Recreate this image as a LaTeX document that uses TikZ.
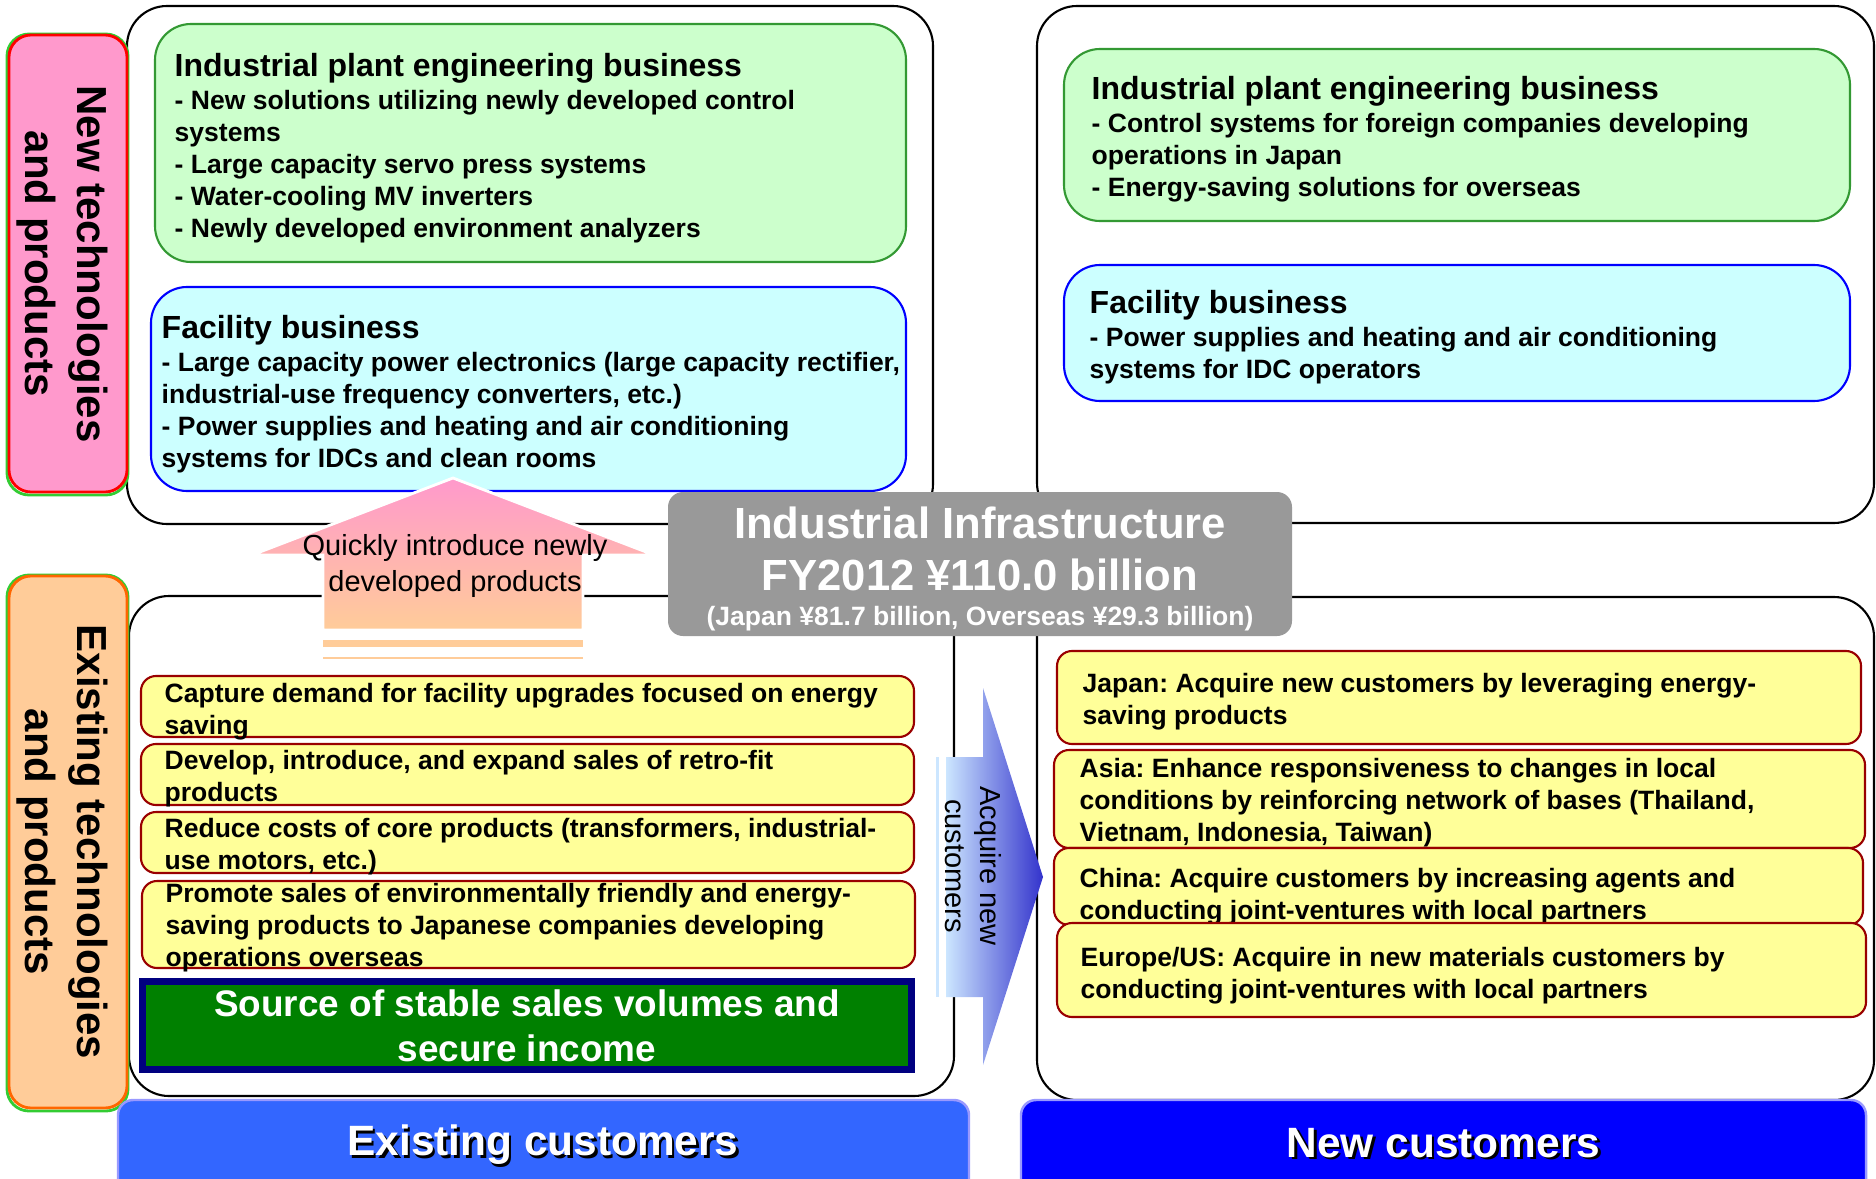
\documentclass[tikz,border=0pt]{standalone}
\usepackage{fontspec}
\setmainfont{Liberation Sans}
\usetikzlibrary{calc}
\frenchspacing

\definecolor{plantfill}{HTML}{CCFFCC}
\definecolor{plantedge}{HTML}{339933}
\definecolor{facilfill}{HTML}{CCFFFF}
\definecolor{faciledge}{HTML}{0000FF}
\definecolor{notefill}{HTML}{FFFF99}
\definecolor{noteedge}{HTML}{990000}
\definecolor{labelpink}{HTML}{FF99CC}
\definecolor{labelpeach}{HTML}{FFCC99}
\definecolor{labelorange}{HTML}{FF6600}
\definecolor{shadowgreen}{HTML}{33CC33}
\definecolor{infragray}{HTML}{999999}
\definecolor{stablegreen}{HTML}{008000}
\definecolor{stableedge}{HTML}{000080}
\definecolor{oldblue}{HTML}{3366FF}
\definecolor{newblue}{HTML}{0000FF}
\definecolor{baredge}{HTML}{9999FF}
\definecolor{arrowlight}{HTML}{CCE6FF}
\definecolor{arrowdark}{HTML}{3333CC}

\tikzset{
	frame/.style={draw=black, fill=white, line width=0.6pt, rounded corners=4mm},
	sideshadow/.style={draw=shadowgreen, line width=0.8pt, rounded corners=2.2mm},
	sidebox/.style={line width=0.8pt, rounded corners=2.2mm},
	plantbox/.style={draw=plantedge, fill=plantfill, line width=0.6pt, rounded corners=3.6mm},
	facilbox/.style={draw=faciledge, fill=facilfill, line width=0.6pt, rounded corners=3.6mm},
	notebox/.style={draw=noteedge, fill=notefill, line width=0.6pt, rounded corners=1.5mm},
	custbar/.style={draw=baredge, line width=0.7pt, rounded corners=1.5mm},
	headtxt/.style={font=\fontsize{9.1}{11}\selectfont\bfseries, inner sep=0pt, anchor=base west},
	bodytxt/.style={font=\fontsize{7.54}{9.1}\selectfont\bfseries, inner sep=0pt, align=left, anchor=north west},
	sidetxt/.style={font=\fontsize{11.95}{14.8}\selectfont\bfseries, inner sep=0pt, align=center, rotate=-90},
	arrowtxt/.style={font=\fontsize{8.25}{10}\selectfont, inner sep=0pt, align=center},
	bartxt/.style={font=\fontsize{12.06}{14}\selectfont\bfseries, inner sep=0pt},
}

\begin{document}
\begin{tikzpicture}[x=0.01cm, y=-0.01cm]
	\clip (0,0) rectangle (1876,1179);
	% the four quadrants
	\draw[frame] (127,6) rectangle (933,524);
	\draw[frame] (1037,6) rectangle (1874,523);
	\draw[frame] (129,596) rectangle (954,1096);
	\draw[frame] (1037,597) rectangle (1874,1100);
	
	% row labels
	\draw[sideshadow] (7,34) rectangle (128,495);
	\draw[sidebox, draw=red, fill=labelpink] (9,35) rectangle (127,492);
	\node[sidetxt] (newtech) at (62,264) {New technologies\\and products};
	\draw[sideshadow] (7,575) rectangle (128,1111);
	\draw[sidebox, draw=labelorange, fill=labelpeach] (9,576) rectangle (127,1108);
	\node[sidetxt] (oldtech) at (62,842) {Existing technologies\\and products};
	
	% new products, existing customers
	\draw[plantbox] (155,24) rectangle (906,262);
	\node[headtxt] (plantAhead) at (174,76.5) {Industrial plant engineering business};
	\node[bodytxt] (plantAbody) at (174,90) {- New solutions utilizing newly developed control\\systems\\- Large capacity servo press systems\\- Water-cooling MV inverters\\- Newly developed environment analyzers};
	\draw[facilbox] (151,287) rectangle (906,491);
	\node[headtxt] (facilAhead) at (161,338.5) {Facility business};
	\node[bodytxt] (facilAbody) at (161,352) {- Large capacity power electronics (large capacity rectifier,\\industrial-use frequency converters, etc.)\\- Power supplies and heating and air conditioning\\systems for IDCs and clean rooms};
	
	% new products, new customers
	\draw[plantbox] (1064,49) rectangle (1850,221);
	\node[headtxt] (plantBhead) at (1091,99.5) {Industrial plant engineering business};
	\node[bodytxt] (plantBbody) at (1091,113) {- Control systems for foreign companies developing\\operations in Japan\\- Energy-saving solutions for overseas};
	\draw[facilbox] (1064,265) rectangle (1850,401);
	\node[headtxt] (facilBhead) at (1089,313.5) {Facility business};
	\node[bodytxt] (facilBbody) at (1089,327) {- Power supplies and heating and air conditioning\\systems for IDC operators};
	
	% existing products, existing customers
	\draw[notebox] (141,676) rectangle (914,737);
	\node[bodytxt] (capture) at (164,683) {Capture demand for facility upgrades focused on energy\\saving};
	\draw[notebox] (141,744) rectangle (914,805);
	\node[bodytxt] (retrofit) at (164,750) {Develop, introduce, and expand sales of retro-fit\\products};
	\draw[notebox] (141,812) rectangle (914,873);
	\node[bodytxt] (costs) at (164,818) {Reduce costs of core products (transformers, industrial-\\use motors, etc.)};
	\draw[notebox] (142,881) rectangle (915,968);
	\node[bodytxt] (promote) at (165,883) {Promote sales of environmentally friendly and energy-\\saving products to Japanese companies developing\\operations overseas};
	\draw[draw=stableedge, fill=stablegreen, line width=2pt] (142.5,981.5) rectangle (911.5,1069.5);
	\node[font=\fontsize{10.5}{12.8}\selectfont\bfseries, text=white, align=center, inner sep=0pt] (stable) at (527,1026) {Source of stable sales volumes and\\secure income};
	
	% existing products, new customers
	\draw[notebox] (1057,651) rectangle (1861,744);
	\node[bodytxt] (japan) at (1082,673) {Japan: Acquire new customers by leveraging energy-\\saving products};
	\draw[notebox] (1054,750) rectangle (1865,848);
	\node[bodytxt] (asia) at (1079,758) {Asia: Enhance responsiveness to changes in local\\conditions by reinforcing network of bases (Thailand,\\Vietnam, Indonesia, Taiwan)};
	\draw[notebox] (1054,848) rectangle (1863,925);
	\node[bodytxt] (china) at (1079,868) {China: Acquire customers by increasing agents and\\conducting joint-ventures with local partners};
	\draw[notebox] (1057,923) rectangle (1866,1017);
	\node[bodytxt] (europe) at (1080,947) {Europe/US: Acquire in new materials customers by\\conducting joint-ventures with local partners};
	
	% upward arrow
	\draw[draw=white, line width=0.8pt, top color=labelpink, bottom color=labelpeach]
		(323,630) -- (323,555) -- (252,555) -- (453,478) -- (654,555) -- (583,555) -- (583,630) -- cycle;
	\fill[labelpeach] (323,640) rectangle (583,647);
	\fill[labelpeach] (323,657) rectangle (583,659);
	\node[arrowtxt] (quickly) at (455,566) {Quickly introduce newly\\developed products};
	
	% segment total
	\fill[infragray, rounded corners=1.5mm] (668,492) rectangle (1292,636);
	\node[font=\fontsize{12.4}{14}\selectfont\bfseries, text=white, inner sep=0pt] (infra) at (980,523) {Industrial Infrastructure};
	\node[font=\fontsize{12.4}{14}\selectfont\bfseries, text=white, inner sep=0pt] (sales) at (980,575) {FY2012 ¥110.0 billion};
	\node[font=\fontsize{7.54}{9}\selectfont\bfseries, text=white, inner sep=0pt] (split) at (980,619) {(Japan ¥81.7 billion, Overseas ¥29.3 billion)};
	
	% rightward arrow
	\fill[arrowlight] (936,757) rectangle (939,997);
	\path[left color=arrowlight, right color=arrowdark]
		(946,757) -- (983,757) -- (983,688) -- (1043,877) -- (983,1065) -- (983,997) -- (946,997) -- cycle;
	\node[arrowtxt, rotate=-90] (acquire) at (973,866) {Acquire new\\customers};
	
	% customer columns
	\draw[custbar, fill=oldblue] (118,1100) rectangle (969,1240);
	\node[bartxt, text=black] (oldcustS) at (545.5,1147.5) {Existing customers};
	\node[bartxt, text=white] (oldcust) at (543,1145) {Existing customers};
	\draw[custbar, fill=newblue] (1021,1100) rectangle (1866,1240);
	\node[bartxt, text=black] (newcustS) at (1446,1145.5) {New customers};
	\node[bartxt, text=white] (newcust) at (1443.5,1143) {New customers};
\end{tikzpicture}
\end{document}
